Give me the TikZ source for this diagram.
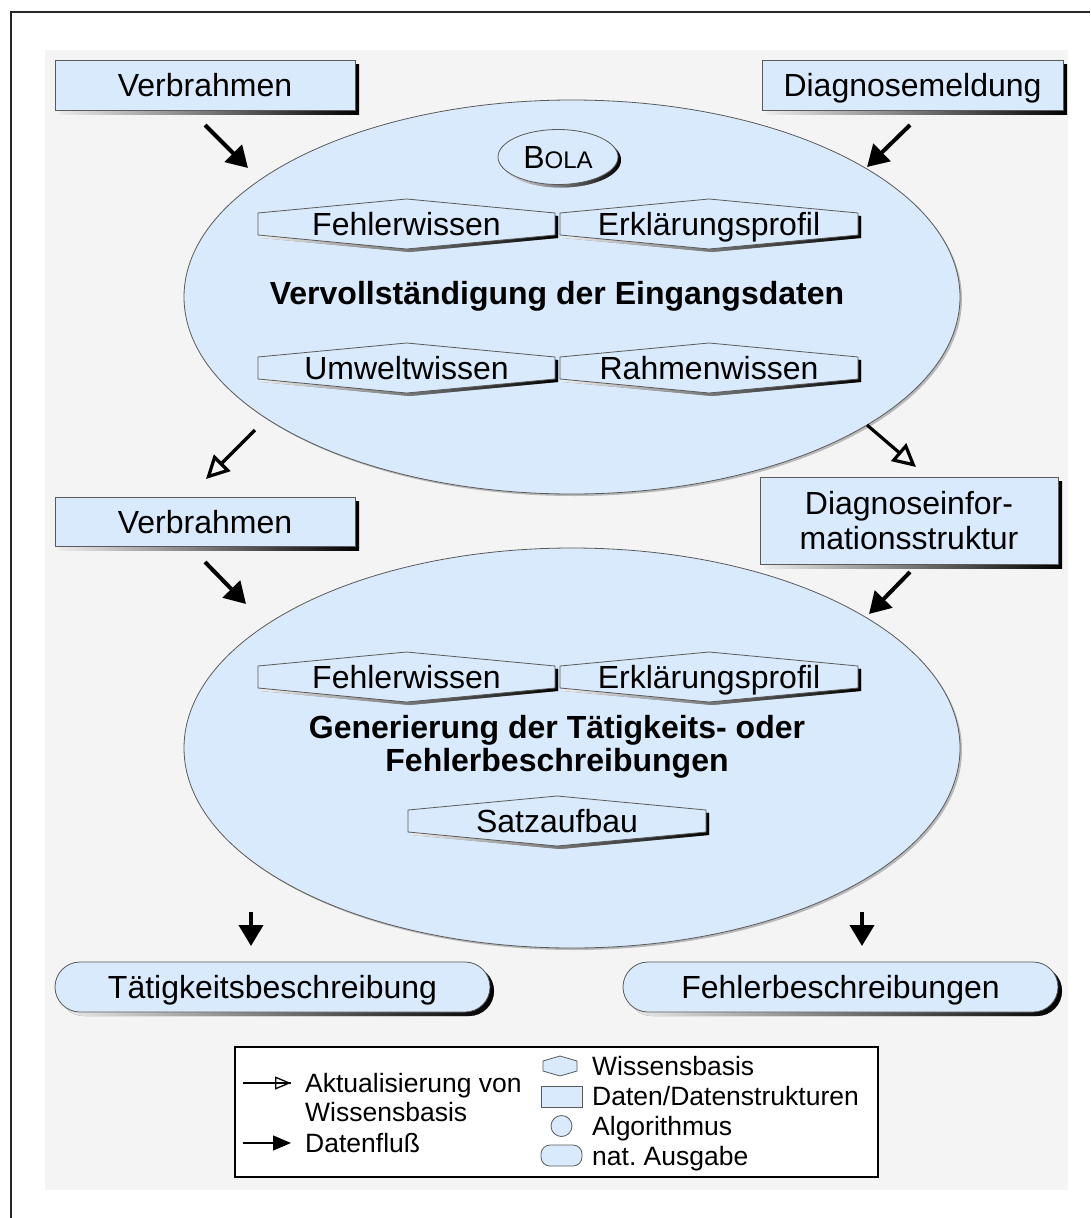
\documentclass[tikz,border=0pt]{standalone}
\usepackage{fontspec}
\setmainfont{Liberation Sans}
\usetikzlibrary{arrows.meta,shapes.geometric,shadows}
\definecolor{lb}{HTML}{D9EAFC}
\definecolor{bd}{HTML}{5A5A5A}
\definecolor{bgc}{HTML}{F4F4F4}
\frenchspacing
\newcommand{\hexbox}[5]{%
  \path[hexshape] ({#2-#4/2},{#3-11}) -- ({#2},{#3-25}) -- ({#2+#4/2},{#3-11}) -- ({#2+#4/2},{#3+11}) -- ({#2},{#3+25}) -- ({#2-#4/2},{#3+11}) -- cycle;
  \node[hextext] (#1) at (#2,#3) {#5};}
\begin{document}
\begin{tikzpicture}[x=1pt,y=-1pt,
  every node/.style={font=\fontsize{32}{35}\selectfont, inner sep=0pt},
  shd/.style={drop shadow={shadow xshift=4pt,shadow yshift=-4pt,opacity=1,left color=gray!15,right color=black}},
  boxbase/.style={draw=bd, line width=0.8pt, fill=lb, shd},
  databox/.style={boxbase, minimum height=50pt, text height=23pt, text depth=0pt},
  outbox/.style={databox, rounded corners=25pt},
  hexshape/.style={draw=bd, line width=0.8pt, fill=lb, drop shadow={shadow xshift=3pt,shadow yshift=-3pt,opacity=1,left color=gray!15,right color=black}},
  hextext/.style={text height=23pt, text depth=0pt},
  bigell/.style={ellipse, draw=bd, line width=0.8pt, fill=lb, drop shadow={shadow xshift=2pt,shadow yshift=-2pt,opacity=1,fill=gray!55}},
  boldtext/.style={font=\fontsize{32}{33}\selectfont\bfseries, align=center},
  flow/.style={line width=4pt, -{Triangle[length=21pt,width=24pt]}},
  upd/.style={line width=3.2pt, -{Triangle[open,length=23pt,width=23pt]}},
  legtext/.style={font=\fontsize{26.5}{29}\selectfont, anchor=west, text height=19pt, text depth=0pt},
  icon/.style={draw=bd, line width=0.8pt, fill=lb},
]
\useasboundingbox (0,0) rectangle (1090,1218);
\fill[bgc] (45,50) rectangle (1068,1190);
\draw[line width=2pt, black!85] (11,1218) -- (11,12) -- (1090,12);

% big ellipses
\node[bigell, minimum width=776pt, minimum height=394pt] (E1) at (572,297) {};
\node[bigell, minimum width=776pt, minimum height=400pt] (E2) at (572,748) {};

% algorithm BOLA
\node[ellipse, draw=bd, line width=0.8pt, fill=lb, minimum width=120pt, minimum height=55pt, text height=23pt, text depth=0pt,
  drop shadow={shadow xshift=3pt,shadow yshift=-3pt,opacity=1,left color=gray!15,right color=black}] (bola) at (558,157) {B{\fontsize{24}{26}\selectfont OLA}};

% ellipse titles
\node[boldtext] (t1) at (557,296) {Vervollständigung der Eingangsdaten};
\node[boldtext] (t2) at (557,747) {Generierung der Tätigkeits- oder\\Fehlerbeschreibungen};

% knowledge bases
\hexbox{h1}{406.5}{224}{297}{Fehlerwissen}
\hexbox{h2}{709}{224}{298}{Erklärungsprofil}
\hexbox{h3}{406.5}{368}{297}{Umweltwissen}
\hexbox{h4}{709}{368}{298}{Rahmenwissen}
\hexbox{h5}{406.5}{677}{297}{Fehlerwissen}
\hexbox{h6}{709}{677}{298}{Erklärungsprofil}
\hexbox{h7}{557}{821}{298}{Satzaufbau}

% data boxes
\node[databox, minimum width=300pt] (vb1) at (205,85) {Verbrahmen};
\node[databox, minimum width=301pt] (dm) at (912.5,85) {Diagnosemeldung};
\node[databox, minimum width=300pt, minimum height=49pt] (vb2) at (205,522) {Verbrahmen};
\node[boxbase, minimum width=298pt, minimum height=87pt, align=center] (dis) at (909,521) {Diagnoseinfor-\\mationsstruktur};

% output boxes
\node[outbox, minimum width=435pt] (tb) at (272.5,987) {Tätigkeitsbeschreibung};
\node[outbox, minimum width=435pt] (fb) at (840.5,987) {Fehlerbeschreibungen};

% arrows
\coordinate (a1s) at (205,125); \coordinate (a1e) at (248,168);
\coordinate (a2s) at (910,125); \coordinate (a2e) at (867,167);
\coordinate (a3s) at (255,430); \coordinate (a3e) at (206,479);
\coordinate (a4s) at (867,425); \coordinate (a4e) at (916,467);
\coordinate (a5s) at (205,562); \coordinate (a5e) at (246,604);
\coordinate (a6s) at (910,572); \coordinate (a6e) at (869,614);
\coordinate (a7s) at (251,912); \coordinate (a7e) at (251,946);
\coordinate (a8s) at (862,912); \coordinate (a8e) at (862,946);
\draw[flow] (a1s) -- (a1e);
\draw[flow] (a2s) -- (a2e);
\draw[upd] (a3s) -- (a3e);
\draw[upd] (a4s) -- (a4e);
\draw[flow] (a5s) -- (a5e);
\draw[flow] (a6s) -- (a6e);
\draw[flow] (a7s) -- (a7e);
\draw[flow] (a8s) -- (a8e);

% legend
\node[draw=black, line width=1.2pt, fill=white, minimum width=643pt, minimum height=130pt] (leg) at (556.5,1112) {};
\coordinate (l1s) at (243,1083); \coordinate (l1e) at (291,1083);
\coordinate (l2s) at (243,1143); \coordinate (l2e) at (291,1143);
\draw[line width=1.3pt] (l1s) -- (l1e);
\draw[line width=1.3pt, -{Triangle[open,length=16pt,width=13pt]}] (l1s) -- (l1e);
\draw[line width=1.3pt, -{Triangle[length=18pt,width=15pt]}] (l2s) -- (l2e);
\node[legtext] (lt1) at (305,1083) {Aktualisierung von};
\node[legtext] (lt2) at (305,1112) {Wissensbasis};
\node[legtext] (lt3) at (305,1143) {Datenfluß};
\path[icon] (543,1061) -- (560,1056) -- (577,1061) -- (577,1071) -- (560,1076) -- (543,1071) -- cycle;
\path[icon] (541,1086) rectangle (582,1107);
\node[icon, circle, minimum size=21pt] (ic3) at (561.5,1126) {};
\path[icon, rounded corners=9pt] (541,1145) rectangle (582,1166);
\node[legtext] (r1) at (592,1066) {Wissensbasis};
\node[legtext] (r2) at (592,1096) {Daten/Datenstrukturen};
\node[legtext] (r3) at (592,1126) {Algorithmus};
\node[legtext] (r4) at (592,1156) {nat.\ Ausgabe};
\end{tikzpicture}
\end{document}
